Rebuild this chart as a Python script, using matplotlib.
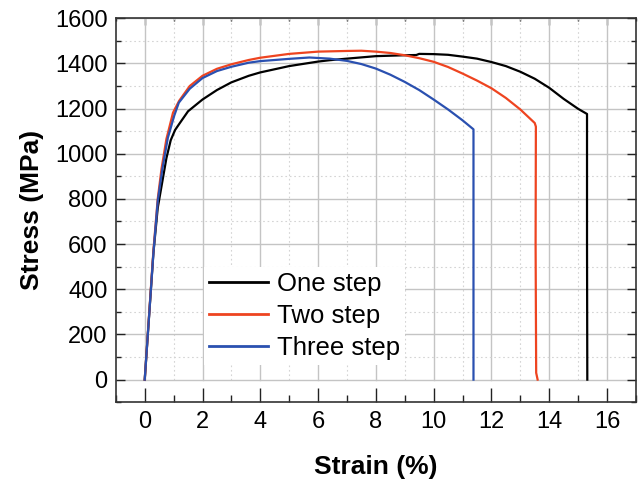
import numpy as np
import matplotlib.pyplot as plt
from matplotlib.ticker import MultipleLocator

# -------------------------------------------------
# Tensile test data (strain in %, stress in MPa)
# -------------------------------------------------
one_step_strain = [0, 0.3, 0.45, 0.6, 0.75, 0.9, 1.05, 1.2, 1.5, 2.0, 2.5, 3.0,
                   3.6, 4.0, 5.0, 6.0, 6.4, 7.0, 8.0, 9.0, 9.4, 9.5, 10.0, 10.5,
                   11.0, 11.5, 12.0, 12.5, 13.0, 13.5, 14.0, 14.5, 15.0, 15.31,
                   15.31, 15.32]
one_step_stress = [0, 560, 760, 870, 980, 1060, 1105, 1133, 1188, 1240, 1282, 1316,
                   1345, 1360, 1388, 1408, 1414, 1421, 1432, 1436, 1437, 1442, 1441, 1438,
                   1430, 1421, 1406, 1388, 1363, 1332, 1292, 1243, 1199, 1176,
                   600, 0]

two_step_strain = [0, 0.3, 0.45, 0.58, 0.75, 0.98, 1.19, 1.56, 2.0, 2.5, 3.0,
                   3.6, 4.0, 5.0, 6.0, 7.0, 7.5, 8.0, 8.5, 9.0, 9.5, 10.0, 10.5,
                   11.0, 11.5, 12.0, 12.5, 13.0, 13.5, 13.54, 13.53, 13.55, 13.6]
two_step_stress = [0, 570, 800, 932, 1065, 1182, 1234, 1300, 1345, 1376, 1396,
                   1415, 1425, 1442, 1452, 1455, 1456, 1452, 1446, 1436, 1423, 1407, 1384,
                   1355, 1324, 1290, 1247, 1196, 1136, 1120, 600, 30, 0]

three_step_strain = [0, 0.3, 0.45, 0.61, 0.8, 1.02, 1.18, 1.56, 2.0, 2.5, 3.0,
                     3.6, 4.0, 5.0, 5.7, 6.4, 7.0, 7.5, 8.0, 8.5, 9.0, 9.5, 10.0,
                     10.5, 11.0, 11.38, 11.38]
three_step_stress = [0, 560, 790, 932, 1070, 1168, 1226, 1288, 1335, 1366, 1385,
                     1403, 1410, 1420, 1426, 1421, 1411, 1397, 1377, 1350, 1318, 1282, 1240,
                     1196, 1148, 1108, 0]

labels = ["One step", "Two step", "Three step"]
colors = ["#000000", "#EE4420", "#2A50B0"]


# -------------------------------------------------
# Grid: horizontal lines span the whole box,
# vertical lines only run from 0 MPa upwards
# -------------------------------------------------
def draw_grid(ax, y_min, y_max):

    ax.yaxis.grid(True, which="major", color="#c4c4c4", linewidth=1.0)
    ax.yaxis.grid(True, which="minor", color="#d4d4d4", linewidth=0.8,
                  linestyle=(0, (1.5, 2.5)))

    frac = (0 - y_min) / (y_max - y_min)

    for x in np.arange(0, 17, 2):
        ax.axvline(x, ymin=frac, ymax=1, color="#c4c4c4",
                   linewidth=1.0, zorder=0.5)

    for x in np.arange(1, 17, 2):
        ax.axvline(x, ymin=frac, ymax=1, color="#d4d4d4", linewidth=0.8,
                   linestyle=(0, (1.5, 2.5)), zorder=0.5)


# -------------------------------------------------
# Main Program
# -------------------------------------------------
def main():

    plt.rcParams["font.family"] = ["Liberation Sans", "DejaVu Sans"]

    fig = plt.figure(figsize=(6.4, 4.84), dpi=100)
    ax = fig.add_axes([0.181, 0.169, 0.8125, 0.7934])
    ax.set_axisbelow(True)

    y_min, y_max = -100, 1600

    # Curves
    ax.plot(one_step_strain, one_step_stress, color=colors[0],
            linewidth=1.6, label=labels[0])
    ax.plot(two_step_strain, two_step_stress, color=colors[1],
            linewidth=1.6, label=labels[1])
    ax.plot(three_step_strain, three_step_stress, color=colors[2],
            linewidth=1.6, label=labels[2])

    ax.set_xlim(-1, 17)
    ax.set_ylim(y_min, y_max)

    ax.xaxis.set_major_locator(MultipleLocator(2))
    ax.xaxis.set_minor_locator(MultipleLocator(1))
    ax.yaxis.set_major_locator(MultipleLocator(200))
    ax.yaxis.set_minor_locator(MultipleLocator(100))
    ax.set_xticks(np.arange(0, 17, 2))
    ax.set_yticks(np.arange(0, 1601, 200))

    draw_grid(ax, y_min, y_max)

    # Ticks point inwards; top ticks are shorter than bottom ones
    ax.tick_params(axis="x", which="major", direction="in", length=10,
                   width=1.0, color="#222222", labelsize=17, pad=6)
    ax.tick_params(axis="x", which="minor", direction="in", length=5,
                   width=1.0, color="#222222")
    ax.tick_params(axis="y", which="major", direction="in", length=6.5,
                   width=1.0, color="#222222", labelsize=17, pad=6, right=True)
    ax.tick_params(axis="y", which="minor", direction="in", length=3.5,
                   width=1.0, color="#222222", right=True)

    top = ax.secondary_xaxis("top")
    top.xaxis.set_major_locator(MultipleLocator(2))
    top.xaxis.set_minor_locator(MultipleLocator(1))
    top.tick_params(which="major", direction="in", length=5, width=1.0,
                    color="#222222", labeltop=False)
    top.tick_params(which="minor", direction="in", length=2.5, width=1.0,
                    color="#222222")
    top.spines["top"].set_visible(False)

    for spine in ax.spines.values():
        spine.set_color("#333333")
        spine.set_linewidth(1.2)

    ax.set_xlabel("Strain (%)", fontsize=19, fontweight="bold", labelpad=16)
    ax.set_ylabel("Stress (MPa)", fontsize=19, fontweight="bold", labelpad=8)

    # Legend
    leg = ax.legend(loc="upper left", bbox_to_anchor=(0.169, 0.352),
                    fontsize=18.5, frameon=True, framealpha=1,
                    facecolor="white", edgecolor="none", fancybox=False,
                    borderpad=0.2, borderaxespad=0, handlelength=2.3,
                    handletextpad=0.35, labelspacing=0.3)
    for line in leg.get_lines():
        line.set_linewidth(2.0)

    plt.savefig("out.png", dpi=100)


# -------------------------------------------------
# Driver Code
# -------------------------------------------------
if __name__ == "__main__":
    main()
